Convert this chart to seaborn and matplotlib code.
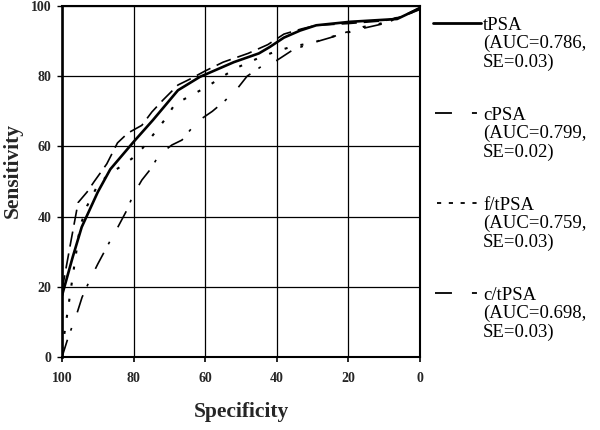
import matplotlib
matplotlib.use("Agg")
import matplotlib.pyplot as plt
from matplotlib.lines import Line2D
import seaborn as sns
import pandas as pd

# ---- data ----
tpsa_spec = [100, 97, 94.5, 90, 86.5, 80, 74.6, 67.6, 61.5, 52, 45, 42, 38, 33.5, 29, 19.5, 6.4, 0]
tpsa_sens = [17.5, 28.5, 37, 47, 53.5, 61.3, 67.5, 76, 79.8, 84, 86.5, 88.3, 91, 93, 94.5, 95.5, 96.3, 99.4]

cpsa_spec = [100, 97.5, 95.5, 93, 91, 87.5, 84.5, 81.6, 77.7, 74.9, 71.8, 67.6, 64.2, 60, 55, 48, 42.5, 38, 33, 29, 20, 10, 5, 0]
cpsa_sens = [19, 33, 44, 47, 50, 55, 61, 63.8, 66, 69.8, 73.2, 77.5, 79.2, 81.5, 84, 86.5, 89, 92, 93.5, 94.5, 95, 95.8, 97, 99.6]

ft_spec = [100, 99, 98, 97, 96, 95, 93, 90, 87, 84, 80.5, 77.5, 74, 71, 68.5, 64, 59.5, 55, 51, 45.5, 40.5, 35.5, 30, 25.5, 20.5, 16, 11, 5.5, 0]
ft_sens = [2, 9, 16, 23, 30, 37, 43, 49, 52, 54, 56.5, 59.5, 64, 68, 72, 74.5, 77, 80, 82.5, 85, 87, 88.5, 89.5, 91, 92.3, 94, 95, 97, 99]

ct_spec = [100, 98.3, 95.8, 94.4, 92.2, 90, 86.6, 84.4, 81.8, 80.2, 77.7, 74.9, 73, 69.3, 66.5, 62.3, 58, 54.5, 51, 48.3, 44, 40, 35.5, 30, 25, 20.4, 10, 5, 0]
ct_sens = [0, 5.5, 12.5, 17, 22, 26.5, 33, 37, 42, 46, 50.4, 54, 57.5, 60.4, 61.8, 67, 70, 73, 76.5, 80, 83, 84.5, 87.5, 89.5, 91, 92.6, 95, 97, 99]

series_names = ["tPSA", "cPSA", "f/tPSA", "c/tPSA"]
auc_labels = ["(AUC=0.786,", "(AUC=0.799,", "(AUC=0.759,", "(AUC=0.698,"]
se_labels = ["SE=0.03)", "SE=0.02)", "SE=0.03)", "SE=0.03)"]
x_ticks = [100, 80, 60, 40, 20, 0]
y_ticks = [0, 20, 40, 60, 80, 100]

sns.set_theme(style="white")
plt.rcParams["font.family"] = ["Liberation Serif", "DejaVu Serif"]
plt.rcParams["lines.scale_dashes"] = False

fig = plt.figure(figsize=(6.0, 4.3), dpi=100)
ax = fig.add_axes([62 / 600, 1 - 357 / 430, 358 / 600, 351 / 430])

styles = {
    "tPSA": dict(lw=1.9, ls="-"),
    "cPSA": dict(lw=1.2, ls=(0, (11, 5))),
    "f/tPSA": dict(lw=1.5, ls=(0, (2.2, 9.5))),
    "c/tPSA": dict(lw=1.2, ls=(0, (13, 7, 2, 12))),
}
data = {
    "tPSA": (tpsa_spec, tpsa_sens),
    "cPSA": (cpsa_spec, cpsa_sens),
    "f/tPSA": (ft_spec, ft_sens),
    "c/tPSA": (ct_spec, ct_sens),
}
for name in series_names:
    sp, se = data[name]
    df = pd.DataFrame({"Specificity": sp, "Sensitivity": se})
    sns.lineplot(data=df, x="Specificity", y="Sensitivity", ax=ax, color="black",
                 linewidth=styles[name]["lw"], linestyle=styles[name]["ls"],
                 estimator=None, sort=False, zorder=3)

ax.set_xlim(100, 0)
ax.set_ylim(0, 100)
ax.set_xticks(x_ticks)
ax.set_yticks(y_ticks)
ax.set_xticklabels([str(v) for v in x_ticks], fontweight="bold", fontsize=10)
ax.set_yticklabels([str(v) for v in y_ticks], fontweight="bold", fontsize=10)
ax.grid(True, color="black", linewidth=0.9)
ax.set_axisbelow(True)
for s in ax.spines.values():
    s.set_visible(True)
    s.set_color("black")
    s.set_linewidth(1.5)
ax.spines["left"].set_linewidth(1.9)
ax.tick_params(axis="x", direction="out", length=3.5, width=1.2, color="black", pad=7, bottom=True)
ax.tick_params(axis="y", direction="out", length=3.5, width=1.0, color="black", pad=4, left=True)

ax.set_xlabel("Specificity", fontsize=15.5, fontweight="bold", va="center")
ax.set_ylabel("Sensitivity", fontsize=15.5, fontweight="bold", va="center")
ax.xaxis.set_label_coords(0.5, (357 - 412) / 351)
ax.yaxis.set_label_coords((13 - 62) / 358, (357 - 170) / 351)

# ---- legend on the right ----
legend_ls = {
    "tPSA": dict(lw=2.0, ls="-", x=(433, 481)),
    "cPSA": dict(lw=1.3, ls=(0, (12.2, 14.4, 3.6, 20)), x=(435, 478)),
    "f/tPSA": dict(lw=1.3, ls=(0, (3, 5.5)), x=(437, 478)),
    "c/tPSA": dict(lw=1.3, ls=(0, (12.2, 14.4, 3.6, 20)), x=(435, 478)),
}
for g, name in enumerate(series_names):
    y0 = 23 + 90 * g
    st = legend_ls[name]
    fig.add_artist(Line2D([st["x"][0] / 600, st["x"][1] / 600], [1 - y0 / 430] * 2,
                          transform=fig.transFigure, color="black",
                          linewidth=st["lw"], linestyle=st["ls"]))
    for i, txt in enumerate([name, auc_labels[g], se_labels[g]]):
        fig.text(483 / 600, 1 - (y0 + 18.5 * i) / 430, txt, fontsize=13.5,
                 va="center_baseline", ha="left", color="black")

fig.savefig("out.png", dpi=100, facecolor="white")
